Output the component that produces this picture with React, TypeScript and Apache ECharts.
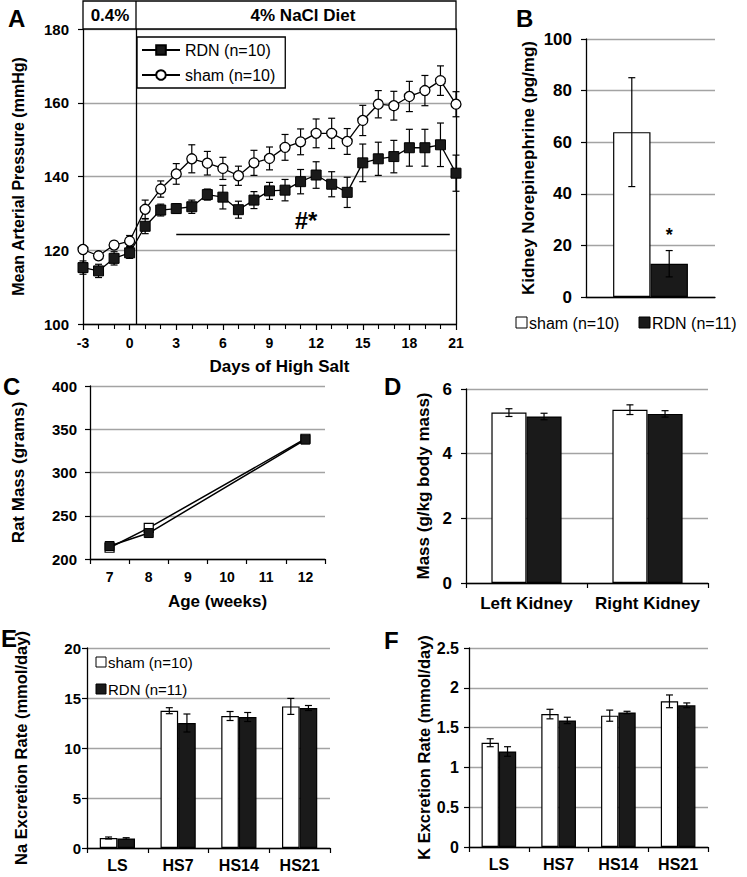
import React, { useEffect, useRef } from 'react';
import * as echarts from 'echarts';

const FONT = '"Liberation Sans", Arial, Helvetica, sans-serif';

// ---------- Panel A: mean arterial pressure ----------
const daysA = [-3, -2, -1, 0, 1, 2, 3, 4, 5, 6, 7, 8, 9, 10, 11, 12, 13, 14, 15, 16, 17, 18, 19, 20, 21];
const mapSham = [120.2, 118.5, 121.4, 122.5, 131.1, 136.6, 140.7, 144.8, 143.6, 142.2, 140.2, 143.7, 144.9, 147.9, 149.4, 151.7, 151.7, 149.5, 155.2, 159.6, 159.2, 161.7, 163.3, 166.0, 159.6];
const mapShamErr = [1.0, 1.0, 1.0, 1.5, 2.5, 2.2, 2.8, 3.8, 3.2, 3.0, 2.6, 3.4, 3.1, 3.5, 3.5, 3.9, 4.1, 3.5, 4.1, 3.7, 3.9, 4.1, 4.1, 4.0, 3.4];
const mapRdn = [115.3, 114.4, 117.8, 119.3, 126.5, 130.9, 131.3, 131.8, 135.1, 134.4, 131.0, 133.6, 136.1, 136.3, 138.6, 140.4, 137.9, 135.7, 143.7, 144.8, 145.4, 147.8, 147.8, 148.6, 140.9];
const mapRdnErr = [1.8, 1.8, 1.8, 1.5, 2.0, 1.6, 1.3, 1.8, 1.5, 3.2, 2.3, 2.3, 2.3, 2.9, 3.3, 3.6, 3.4, 4.1, 5.1, 4.5, 4.4, 5.0, 5.0, 5.9, 4.9];
const dietSwitchDay = 0.4;
const sigFromDay = 3;
const sigToDay = 20.6;
const sigLevel = 124.4;

// ---------- Panel B: kidney norepinephrine ----------
const neCats = [''];
const neSham = [63.9];
const neShamErr = [21.1];
const neRdn = [12.9];
const neRdnErr = [5.1];

// ---------- Panel C: rat mass ----------
const ageWeeks = ['7', '8', '9', '10', '11', '12'];
const massSham: (number | null)[] = [213, 236, null, null, null, 339];
const massShamErr: (number | null)[] = [3, 3, null, null, null, 4];
const massRdn: (number | null)[] = [215, 230, null, null, null, 338];
const massRdnErr: (number | null)[] = [3, 3, null, null, null, 4];

// ---------- Panel D: kidney mass ----------
const kidneyCats = ['Left Kidney', 'Right Kidney'];
const kidneySham = [5.27, 5.36];
const kidneyShamErr = [0.12, 0.15];
const kidneyRdn = [5.15, 5.23];
const kidneyRdnErr = [0.1, 0.1];

// ---------- Panels E, F: excretion ----------
const periodCats = ['LS', 'HS7', 'HS14', 'HS21'];
const naSham = [1.0, 13.73, 13.2, 14.16];
const naShamErr = [0.1, 0.3, 0.45, 0.8];
const naRdn = [0.95, 12.5, 13.1, 14.0];
const naRdnErr = [0.08, 0.9, 0.45, 0.25];
const kSham = [1.31, 1.67, 1.65, 1.83];
const kShamErr = [0.05, 0.06, 0.07, 0.08];
const kRdn = [1.2, 1.59, 1.69, 1.78];
const kRdnErr = [0.06, 0.04, 0.015, 0.03];

const BAR_W = 0.29;

function errRender(offsetFrac: number, cap: number) {
  return (params: any, api: any) => {
    const x = api.value(0);
    const v = api.value(1);
    const e = api.value(2);
    const c = api.coord([x, v]);
    const band = api.size([1, 0], [x, v])[0] || 0;
    const cx = c[0] + offsetFrac * band;
    const hi = api.coord([x, v + e])[1];
    const lo = api.coord([x, v - e])[1];
    const style = { stroke: '#000', lineWidth: 1.2, fill: 'none' };
    return {
      type: 'group',
      children: [
        { type: 'line', shape: { x1: cx, y1: hi, x2: cx, y2: lo }, style },
        { type: 'line', shape: { x1: cx - cap, y1: hi, x2: cx + cap, y2: hi }, style },
        { type: 'line', shape: { x1: cx - cap, y1: lo, x2: cx + cap, y2: lo }, style },
      ],
    };
  };
}

function catErrData(vals: (number | null)[], errs: (number | null)[]) {
  const out: number[][] = [];
  vals.forEach((v, i) => {
    if (v != null && errs[i] != null) out.push([i, v, errs[i] as number]);
  });
  return out;
}

const axisLineBlack = { show: true, onZero: false, lineStyle: { color: '#000', width: 1.3 } };
const splitGray = { show: true, lineStyle: { color: '#a3a3a3', width: 1.3, type: 'solid' } };
const tickOut = (len: number) => ({ show: true, inside: false, length: len, lineStyle: { color: '#000', width: 1.2 } });
const lab = (size: number, margin: number) => ({ fontFamily: FONT, fontWeight: 'bold', fontSize: size, color: '#000', margin });
const nameStyle = (size: number, padding?: number[]) => ({ fontFamily: FONT, fontWeight: 'bold', fontSize: size, color: '#000', padding: padding || 0 });

function barErr(id: string, xi: number, yi: number, vals: (number | null)[], errs: (number | null)[], off: number) {
  return {
    type: 'custom', id, xAxisIndex: xi, yAxisIndex: yi, z: 5,
    renderItem: errRender(off, 3.5),
    encode: { x: 0, y: 1 },
    data: catErrData(vals, errs),
    silent: true,
  };
}

function barPair(prefix: string, xi: number, yi: number, sv: number[], rv: number[]) {
  return [
    {
      type: 'bar', name: prefix + ' sham', xAxisIndex: xi, yAxisIndex: yi,
      barWidth: (BAR_W * 100) + '%', barGap: '0%',
      itemStyle: { color: '#fff', borderColor: '#000', borderWidth: 1.2 },
      data: sv,
    },
    {
      type: 'bar', name: prefix + ' RDN', xAxisIndex: xi, yAxisIndex: yi,
      barWidth: (BAR_W * 100) + '%', barGap: '0%',
      itemStyle: { color: '#1a1a1a', borderColor: '#000', borderWidth: 1.2 },
      data: rv,
    },
  ];
}

function text(x: number, y: number, t: string, size: number, bold: boolean, align = 'center', valign = 'middle') {
  return {
    type: 'text', x, y, z: 10,
    style: { text: t, fontFamily: FONT, fontSize: size, fontWeight: bold ? 'bold' : 'normal', fill: '#000', align, verticalAlign: valign },
  };
}

function swatch(x: number, y: number, filled: boolean, s = 10) {
  return {
    type: 'rect', z: 10, shape: { x, y, width: s, height: s },
    style: { fill: filled ? '#1a1a1a' : '#fff', stroke: '#000', lineWidth: 1 },
  };
}

export default function App() {
  const ref = useRef<HTMLDivElement>(null);
  useEffect(() => {
    if (!ref.current) return;
    const chart = echarts.init(ref.current, null, { renderer: 'svg' });

    const grids = [
      { left: 83, top: 29, width: 373, height: 295 },   // A
      { left: 586, top: 39, width: 129, height: 258 },  // B
      { left: 90, top: 386, width: 235, height: 173 },  // C
      { left: 466, top: 389, width: 242, height: 194 }, // D
      { left: 87, top: 648, width: 243, height: 200 },  // E
      { left: 469, top: 648, width: 239, height: 199 }, // F
    ].map((g) => ({ ...g, containLabel: false, outerBoundsMode: 'none' }));

    const catX = (gi: number, data: string[], size: number, margin: number, showLabel = true, showTick = true) => ({
      type: 'category', gridIndex: gi, data,
      axisLine: axisLineBlack,
      axisTick: showTick ? tickOut(5) : { show: false },
      axisLabel: { show: showLabel, ...lab(size, margin), interval: 0 },
      splitLine: { show: false },
    });

    const valY = (gi: number, min: number, max: number, interval: number, size: number, margin: number, name: string, nameGap: number, nameSize: number) => ({
      type: 'value', gridIndex: gi, min, max, interval,
      axisLine: axisLineBlack,
      axisTick: tickOut(5),
      axisLabel: lab(size, margin),
      splitLine: splitGray,
      name, nameLocation: 'middle', nameGap, nameTextStyle: nameStyle(nameSize),
    });

    const option: any = {
      animation: false,
      backgroundColor: '#fff',
      grid: grids,
      legend: [{
        data: ['RDN (n=10)', 'sham (n=10)'],
        orient: 'vertical', left: 137, top: 37,
        itemWidth: 38, itemHeight: 12, itemGap: 9,
        padding: [5, 10, 5, 4],
        borderColor: '#000', borderWidth: 1.3, backgroundColor: '#fff',
        textStyle: { fontFamily: FONT, fontSize: 16, color: '#000' },
        selectedMode: false,
      }],
      xAxis: [
        {
          type: 'value', gridIndex: 0, min: -3, max: 21, interval: 3,
          axisLine: axisLineBlack,
          axisTick: tickOut(6),
          minorTick: { show: true, splitNumber: 3, length: 5, lineStyle: { color: '#000', width: 1.1 } },
          axisLabel: lab(14, 12),
          splitLine: { show: false },
          name: 'Days of High Salt', nameLocation: 'middle', nameGap: 34,
          nameTextStyle: nameStyle(17, [0, 0, 0, 20]),
        },
        catX(1, neCats, 14, 8, false, false),
        {
          ...catX(2, ageWeeks, 14, 11),
          name: 'Age (weeks)', nameLocation: 'middle', nameGap: 34,
          nameTextStyle: nameStyle(17, [0, 0, 0, 20]),
        },
        catX(3, kidneyCats, 17, 12),
        catX(4, periodCats, 16, 9),
        catX(5, periodCats, 16, 9),
      ],
      yAxis: [
        valY(0, 100, 180, 20, 15, 14, 'Mean Arterial Pressure (mmHg)', 57, 16),
        {
          type: 'value', gridIndex: 0, position: 'right', min: 100, max: 180, interval: 20,
          axisLine: axisLineBlack, axisTick: { show: false }, axisLabel: { show: false }, splitLine: { show: false },
        },
        valY(1, 0, 100, 20, 17, 14, 'Kidney Norepinephrine (pg/mg)', 49, 17),
        valY(2, 200, 400, 50, 15, 13, 'Rat Mass (grams)', 63, 17),
        valY(3, 0, 6, 2, 17, 14, 'Mass (g/kg body mass)', 34, 17),
        valY(4, 0, 20, 5, 15, 6, 'Na Excretion Rate (mmol/day)', 58, 16.5),
        valY(5, 0, 2.5, 0.5, 16, 10, 'K Excretion Rate (mmol/day)', 37, 16.5),
      ],
      series: [
        // ----- A -----
        {
          type: 'custom', id: 'errShamA', xAxisIndex: 0, yAxisIndex: 0, z: 1,
          renderItem: errRender(0, 3.5), encode: { x: 0, y: 1 },
          data: daysA.map((d, i) => [d, mapSham[i], mapShamErr[i]]), silent: true,
        },
        {
          type: 'custom', id: 'errRdnA', xAxisIndex: 0, yAxisIndex: 0, z: 1,
          renderItem: errRender(0, 3.5), encode: { x: 0, y: 1 },
          data: daysA.map((d, i) => [d, mapRdn[i], mapRdnErr[i]]), silent: true,
        },
        {
          type: 'line', name: 'sham (n=10)', xAxisIndex: 0, yAxisIndex: 0, z: 3,
          symbol: 'circle', symbolSize: 10,
          itemStyle: { color: '#fff', borderColor: '#000', borderWidth: 1.3 },
          lineStyle: { color: '#000', width: 1.3 },
          data: daysA.map((d, i) => [d, mapSham[i]]),
        },
        {
          type: 'line', name: 'RDN (n=10)', xAxisIndex: 0, yAxisIndex: 0, z: 4,
          symbol: 'rect', symbolSize: 10,
          itemStyle: { color: '#1a1a1a', borderColor: '#000', borderWidth: 1 },
          lineStyle: { color: '#000', width: 1.3 },
          data: daysA.map((d, i) => [d, mapRdn[i]]),
          markLine: {
            silent: true, symbol: 'none', animation: false,
            lineStyle: { color: '#000', width: 1.3, type: 'solid' },
            label: { show: false },
            data: [
              { xAxis: dietSwitchDay, label: { show: false } },
              [
                {
                  coord: [sigFromDay, sigLevel],
                  label: {
                    show: true, formatter: '#*', position: 'insideMiddleTop', distance: 2, offset: [-7, 0],
                    fontFamily: FONT, fontWeight: 'bold', fontSize: 24, color: '#000',
                  },
                },
                { coord: [sigToDay, sigLevel] },
              ],
            ],
          },
        },
        // ----- B -----
        ...barPair('ne', 1, 2, neSham, neRdn).map((s, i) => i === 1 ? {
          ...s,
          label: { show: true, position: 'top', formatter: '*', distance: 20, fontFamily: FONT, fontWeight: 'bold', fontSize: 18, color: '#000' },
        } : s),
        barErr('errShamB', 1, 2, neSham, neShamErr, -BAR_W / 2),
        barErr('errRdnB', 1, 2, neRdn, neRdnErr, BAR_W / 2),
        // ----- C -----
        {
          type: 'custom', id: 'errShamC', xAxisIndex: 2, yAxisIndex: 3, z: 1,
          renderItem: errRender(0, 3.5), encode: { x: 0, y: 1 },
          data: catErrData(massSham, massShamErr), silent: true,
        },
        {
          type: 'custom', id: 'errRdnC', xAxisIndex: 2, yAxisIndex: 3, z: 1,
          renderItem: errRender(0, 3.5), encode: { x: 0, y: 1 },
          data: catErrData(massRdn, massRdnErr), silent: true,
        },
        {
          type: 'line', name: 'mass sham', xAxisIndex: 2, yAxisIndex: 3, z: 3, connectNulls: true,
          symbol: 'rect', symbolSize: 9,
          itemStyle: { color: '#fff', borderColor: '#000', borderWidth: 1.2 },
          lineStyle: { color: '#000', width: 1.5 },
          data: massSham,
        },
        {
          type: 'line', name: 'mass RDN', xAxisIndex: 2, yAxisIndex: 3, z: 4, connectNulls: true,
          symbol: 'rect', symbolSize: 9,
          itemStyle: { color: '#1a1a1a', borderColor: '#000', borderWidth: 1 },
          lineStyle: { color: '#000', width: 1.5 },
          data: massRdn,
        },
        // ----- D -----
        ...barPair('kid', 3, 4, kidneySham, kidneyRdn),
        barErr('errShamD', 3, 4, kidneySham, kidneyShamErr, -BAR_W / 2),
        barErr('errRdnD', 3, 4, kidneyRdn, kidneyRdnErr, BAR_W / 2),
        // ----- E -----
        ...barPair('na', 4, 5, naSham, naRdn),
        barErr('errShamE', 4, 5, naSham, naShamErr, -BAR_W / 2),
        barErr('errRdnE', 4, 5, naRdn, naRdnErr, BAR_W / 2),
        // ----- F -----
        ...barPair('k', 5, 6, kSham, kRdn),
        barErr('errShamF', 5, 6, kSham, kShamErr, -BAR_W / 2),
        barErr('errRdnF', 5, 6, kRdn, kRdnErr, BAR_W / 2),
      ],
      graphic: [
        // header box of panel A
        { type: 'rect', z: 10, shape: { x: 83, y: 1, width: 373, height: 28 }, style: { fill: '#fff', stroke: '#000', lineWidth: 1.3 } },
        { type: 'line', z: 11, shape: { x1: 136, y1: 1, x2: 136, y2: 29 }, style: { stroke: '#000', lineWidth: 1.3 } },
        text(110, 15, '0.4%', 17, true),
        text(303, 15, '4% NaCl Diet', 17, true),
        // panel letters
        text(8, 18, 'A', 24, true, 'left'),
        text(516, 18, 'B', 24, true, 'left'),
        text(3, 386, 'C', 24, true, 'left'),
        text(384, 386, 'D', 24, true, 'left'),
        text(1, 638, 'E', 24, true, 'left'),
        text(384, 640, 'F', 24, true, 'left'),
        // legend of panel B
        swatch(516, 317, false, 11),
        text(529, 323, 'sham (n=10)', 16, false, 'left'),
        swatch(639, 317, true, 11),
        text(652, 323, 'RDN (n=11)', 16, false, 'left'),
        // legend of panel E
        swatch(96, 657, false),
        text(108, 662, 'sham (n=10)', 15, false, 'left'),
        swatch(96, 684, true),
        text(108, 689, 'RDN (n=11)', 15, false, 'left'),
      ],
    };

    chart.setOption(option);
    return () => chart.dispose();
  }, []);

  return <div ref={ref} style={{ width: 747, height: 877, position: 'absolute', left: 0, top: 0 }} />;
}
